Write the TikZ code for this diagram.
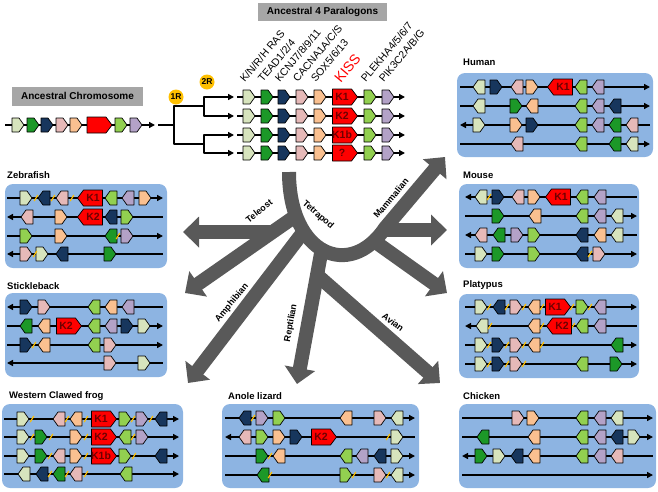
\documentclass[tikz,border=0pt]{standalone}
\usepackage{fontspec}
\setmainfont{Liberation Sans}
\usetikzlibrary{arrows.meta}

\definecolor{pale}{RGB}{215,228,189}
\definecolor{dgreen}{RGB}{28,152,40}
\definecolor{navy}{RGB}{23,54,93}
\definecolor{pink}{RGB}{230,185,184}
\definecolor{peach}{RGB}{250,192,144}
\definecolor{lime}{RGB}{146,208,80}
\definecolor{lav}{RGB}{179,162,199}
\definecolor{kred}{RGB}{255,0,0}
\definecolor{kdark}{RGB}{110,0,0}
\definecolor{panelbg}{RGB}{141,180,226}
\definecolor{arrgray}{RGB}{89,89,89}
\definecolor{hdrgray}{RGB}{166,166,166}
\definecolor{gold}{RGB}{255,192,0}

\tikzset{
  gene/.pic={\draw[line width=0.7pt, fill=#1] (-6,-7) -- (1,-7) -- (6,0) -- (1,7) -- (-6,7) -- cycle;},
  kbox/.pic={\draw[line width=0.7pt, fill=kred] (-12.5,-8) -- (6.5,-8) -- (12.5,0) -- (6.5,8) -- (-12.5,8) -- cycle;
    \node[ktext] (ktxt) at (-3,0) {#1};},
  cut/.pic={\draw[gold, line width=1.2pt] (-1.8,3) -- (1.8,-3);},
  chrom/.style={line width=1.4pt},
  tree/.style={line width=1.8pt},
  panel/.style={fill=panelbg, rounded corners=8pt},
  band/.style={draw=arrgray, line width=14pt, -{Triangle[width=30pt,length=16pt]}},
  title/.style={anchor=west, inner sep=0pt, font=\fontsize{9.5}{11}\selectfont\bfseries},
  hdr/.style={fill=hdrgray, inner sep=0pt, minimum height=19pt, font=\fontsize{10}{12}\selectfont\bfseries},
  glabel/.style={anchor=south west, rotate=50, inner sep=0pt, font=\fontsize{10.5}{12}\selectfont},
  blabel/.style={inner sep=0pt, font=\fontsize{9}{10}\selectfont\bfseries},
  ktext/.style={inner sep=0pt, text=kdark, font=\fontsize{10.5}{11}\selectfont\bfseries},
  rnd/.style={circle, fill=gold, minimum size=15pt, inner sep=0pt, font=\fontsize{8.5}{9}\selectfont\bfseries}
}

\newcommand{\genes}[2]{\foreach \gx/\s/\col in {#2} {\pic[xscale=\s] at (\gx,#1) {gene=\col};}}
\newcommand{\cuts}[2]{\foreach \gx in {#2} {\pic at (\gx,#1) {cut};}}

\begin{document}
\begin{tikzpicture}[x=1pt, y=-1pt, line join=round, >={Triangle[length=6pt,width=6pt]}]
\useasboundingbox (0,0) rectangle (658,491);

% ancestral chromosome
\node[hdr, minimum width=131pt] (anc) at (77.5,96) {Ancestral Chromosome};
\draw[chrom,->] (5,125) -- (155,125);
\genes{125}{18/1/pale, 33/1/dgreen, 47/1/navy, 62/1/pink, 76/1/peach, 121/1/lime, 136/1/lav}
\pic at (99.5,125) {kbox={}};

% 1R and 2R
\coordinate (root) at (158,125);
\draw[tree] (root) -- (174,125);
\draw[tree] (204,106) -- (174,106) -- (174,144) -- (204,144);
\draw[tree,<->] (234,97) -- (204,97) -- (204,116) -- (234,116);
\draw[tree,<->] (234,135) -- (204,135) -- (204,153) -- (234,153);
\node[rnd] (r1) at (176,97) {1R};
\node[rnd] (r2) at (207,82) {2R};

% four paralogons
\node[hdr, minimum width=129pt, minimum height=18pt] (par) at (322.5,12) {Ancestral 4 Paralogons};
\foreach \y/\k in {97/K1, 116/K2, 135/K1b, 153/?} {
  \draw[chrom,->] (237,\y) -- (405,\y);
  \genes{\y}{249/1/pale, 267/1/dgreen, 284/1/navy, 302/1/pink, 320/1/peach, 370/1/lime, 388/1/lav}
  \pic at (345,\y) {kbox=\k};
}
\node[glabel] (gras) at (245,83) {K/N/R/H RAS};
\node[glabel] (gtead) at (263,83) {TEAD1/2/4};
\node[glabel] (gkcnj) at (280,83) {KCNJ7/8/9/11};
\node[glabel] (gcacna) at (298,83) {CACNA1A/C/S};
\node[glabel] (gsox) at (316,83) {SOX5/6/13};
\node[glabel, text=kred, font=\fontsize{14}{16}\selectfont] (gkiss) at (341,84) {KISS};
\node[glabel] (gplekha) at (366,83) {PLEKHA4/5/6/7};
\node[glabel] (gpik) at (384,83) {PIK3C2A/B/G};

% Human
\fill[panel] (457,73) rectangle (653,157);
\node[title] (human) at (463,62) {Human};
\draw[chrom,->] (460,87) -- (650,87);
\draw[chrom,->] (460,106) -- (650,106);
\draw[chrom,<-] (460,125) -- (650,125);
\draw[chrom,->] (460,144) -- (650,144);
\genes{87}{479/-1/pale, 496/1/navy, 517/-1/pink, 532/1/peach, 581/-1/lime, 598/-1/lav}
\genes{106}{479/-1/pale, 516/1/dgreen, 532/-1/peach, 581/-1/lime, 598/-1/lav, 615/-1/navy}
\genes{125}{479/1/pale, 516/1/peach, 532/1/navy, 581/-1/lime, 598/-1/lav, 615/-1/dgreen, 632/-1/pink}
\genes{144}{517/-1/pink, 581/-1/lime, 615/-1/dgreen, 632/-1/pale}
\pic[xscale=-1] at (560,87) {kbox=K1};

% Mouse
\fill[panel] (459,184) rectangle (639,268);
\node[title] (mouse) at (463,175) {Mouse};
\draw[chrom,<-] (465,197) -- (637,197);
\draw[chrom,->] (465,216) -- (637,216);
\draw[chrom,<-] (465,235) -- (637,235);
\draw[chrom,->] (465,254) -- (637,254);
\genes{197}{481/-1/pale, 498/1/navy, 518/-1/pink, 534/1/peach, 582/-1/lime, 600/-1/lav}
\genes{216}{498/1/dgreen, 535/-1/peach, 582/-1/lime, 600/-1/lav, 617/-1/pale}
\genes{235}{481/-1/pink, 499/-1/dgreen, 517/1/lav, 534/1/lime, 582/-1/navy, 600/-1/peach, 617/-1/pale}
\genes{254}{481/1/pale, 498/1/dgreen, 534/1/lime, 582/-1/navy, 599/1/pink}
\cuts{197}{489}
\cuts{254}{590}
\pic[xscale=-1] at (558,197) {kbox=K1};

% Platypus
\fill[panel] (459,294) rectangle (639,378);
\node[title] (platypus) at (463,285) {Platypus};
\draw[chrom,->] (465,307) -- (637,307);
\draw[chrom,<-] (465,326) -- (637,326);
\draw[chrom,->] (465,345) -- (637,345);
\draw[chrom,->] (465,364) -- (637,364);
\genes{307}{481/1/pale, 499/-1/navy, 516/1/pink, 534/-1/peach, 582/1/lime, 600/-1/lav}
\genes{326}{482/-1/pale, 534/-1/peach, 582/-1/lime, 600/-1/lav}
\genes{345}{481/1/pale, 498/1/navy, 516/1/pink, 534/-1/peach, 617/-1/dgreen}
\genes{364}{481/1/pale, 498/1/navy, 516/1/pink, 582/-1/lime, 616/1/dgreen}
\cuts{307}{489, 507, 524, 542, 572, 590}
\cuts{326}{490, 542, 573}
\cuts{345}{489, 507, 524, 542}
\cuts{364}{489, 507, 524}
\pic at (558,307) {kbox=K1};
\pic[xscale=-1] at (559,326) {kbox=K2};

% Chicken
\fill[panel] (459,404) rectangle (656,488);
\node[title] (chicken) at (463,396) {Chicken};
\draw[chrom,->] (462,418) -- (653,418);
\draw[chrom,->] (462,437) -- (653,437);
\draw[chrom,<-] (462,456) -- (653,456);
\draw[chrom,->] (462,475) -- (653,475);
\genes{418}{518/1/pink, 533/1/peach, 582/-1/lime, 600/-1/lav, 617/-1/pale}
\genes{437}{483/-1/dgreen, 534/-1/peach, 582/-1/lime, 600/-1/lav, 617/-1/navy, 634/1/pale}
\genes{456}{481/1/dgreen, 499/1/pale, 517/-1/navy, 534/-1/peach, 582/-1/lime, 600/-1/lav, 617/-1/pink}

% Zebrafish
\fill[panel] (5,184) rectangle (167,268);
\node[title] (zebrafish) at (7,175) {Zebrafish};
\draw[chrom,->] (7,198) -- (163,198);
\draw[chrom,<-] (7,217) -- (163,217);
\draw[chrom,->] (7,236) -- (163,236);
\draw[chrom,<-] (7,254) -- (163,254);
\genes{198}{26/1/pale, 44/-1/navy, 62/-1/pink, 111/-1/lime, 128/-1/lav, 145/1/peach}
\genes{217}{27/-1/pink, 61/1/peach, 111/-1/navy, 127/1/lime}
\genes{236}{26/1/lime, 61/1/peach, 111/-1/dgreen, 127/1/lav}
\genes{254}{26/1/pink, 42/1/pale, 62/-1/navy, 110/1/dgreen}
\cuts{198}{36, 53, 72}
\cuts{236}{118}
\cuts{254}{35}
\pic[xscale=-1] at (90,198) {kbox=K1};
\pic[xscale=-1] at (90,217) {kbox=K2};

% Stickleback
\fill[panel] (5,293) rectangle (167,377);
\node[title] (stickleback) at (7,286) {Stickleback};
\draw[chrom,<-] (7,307) -- (163,307);
\draw[chrom,->] (7,326) -- (163,326);
\draw[chrom,->] (7,345) -- (163,345);
\draw[chrom,<-] (7,363) -- (163,363);
\genes{307}{26/1/navy, 44/1/pink, 94/-1/lime, 111/-1/peach, 128/-1/lav}
\genes{326}{26/-1/dgreen, 44/-1/peach, 94/-1/lime, 111/-1/lav, 127/1/navy, 144/1/pale}
\genes{345}{26/1/navy, 44/-1/peach, 94/-1/lime, 110/1/pink}
\genes{363}{110/1/pink, 144/1/pale}
\cuts{345}{34}
\pic at (69,326) {kbox=K2};

% Western Clawed frog
\fill[panel] (2,404) rectangle (183,488);
\node[title] (frog) at (9,396) {Western Clawed frog};
\draw[chrom,->] (4,419) -- (179,419);
\draw[chrom,->] (4,437) -- (179,437);
\draw[chrom,->] (4,456) -- (179,456);
\draw[chrom,->] (4,474) -- (179,474);
\genes{419}{23/1/pale, 59/-1/pink, 76/-1/peach, 125/1/lime, 142/1/lav, 161/-1/navy}
\genes{437}{23/1/pale, 41/1/dgreen, 76/1/peach, 125/-1/lime, 142/1/lav}
\genes{456}{23/1/pale, 41/1/dgreen, 59/-1/pink, 76/1/peach, 125/1/lime, 161/-1/navy}
\genes{474}{24/-1/pale, 42/-1/navy, 59/-1/dgreen, 76/-1/pink, 126/-1/lime}
\cuts{419}{32, 67, 86, 133, 151}
\cuts{437}{32, 51, 86, 133}
\cuts{456}{50, 86, 134}
\cuts{474}{50, 67, 86}
\pic at (104,419) {kbox=K1};
\pic at (104,437) {kbox=K2};
\pic at (104,456) {kbox=K1b};

% Anole lizard
\fill[panel] (222,404) rectangle (419,488);
\node[title] (anole) at (228,396) {Anole lizard};
\draw[chrom,->] (225,418) -- (415,418);
\draw[chrom,<-] (225,437) -- (415,437);
\draw[chrom,->] (225,456) -- (415,456);
\draw[chrom,->] (225,475) -- (415,475);
\genes{418}{245/-1/navy, 262/1/lav, 279/1/lime, 346/-1/peach, 380/1/pink, 397/-1/pale}
\genes{437}{245/-1/pink, 262/1/lime, 279/1/peach, 296/1/navy, 397/1/pale}
\genes{456}{262/1/dgreen, 279/-1/peach, 346/-1/lime, 362/-1/lav, 380/-1/navy, 397/1/pale}
\genes{475}{263/-1/dgreen, 346/1/lime, 380/1/pink, 397/-1/pale}
\cuts{418}{253}
\cuts{437}{388}
\cuts{456}{270}
\cuts{475}{270, 354, 388}
\pic at (324,437) {kbox=K2};

% lineages
\draw[band] (289,172) .. controls (289,255) and (350,280) .. (385,228) -- (445,157);
\draw[band] (297,215) -- (185,293);
\draw[band] (272,232) -- (183,232);
\draw[band] (304,231) -- (188,383);
\draw[band] (322,248) -- (297,384);
\draw[band] (317,275) -- (440,383);
\draw[band] (374,241) -- (447,293);
\draw[band] (384,230) -- (447,230);
\node[blabel, rotate=38] (teleost) at (259,211) {Teleost};
\node[blabel, rotate=-41] (tetrapod) at (318,215) {Tetrapod};
\node[blabel, rotate=50] (mammalian) at (391,198) {Mammalian};
\node[blabel, rotate=50] (amphibian) at (232,303) {Amphibian};
\node[blabel, rotate=80] (reptilian) at (291,323) {Reptilian};
\node[blabel, rotate=-37] (avian) at (393,322) {Avian};
\end{tikzpicture}
\end{document}
